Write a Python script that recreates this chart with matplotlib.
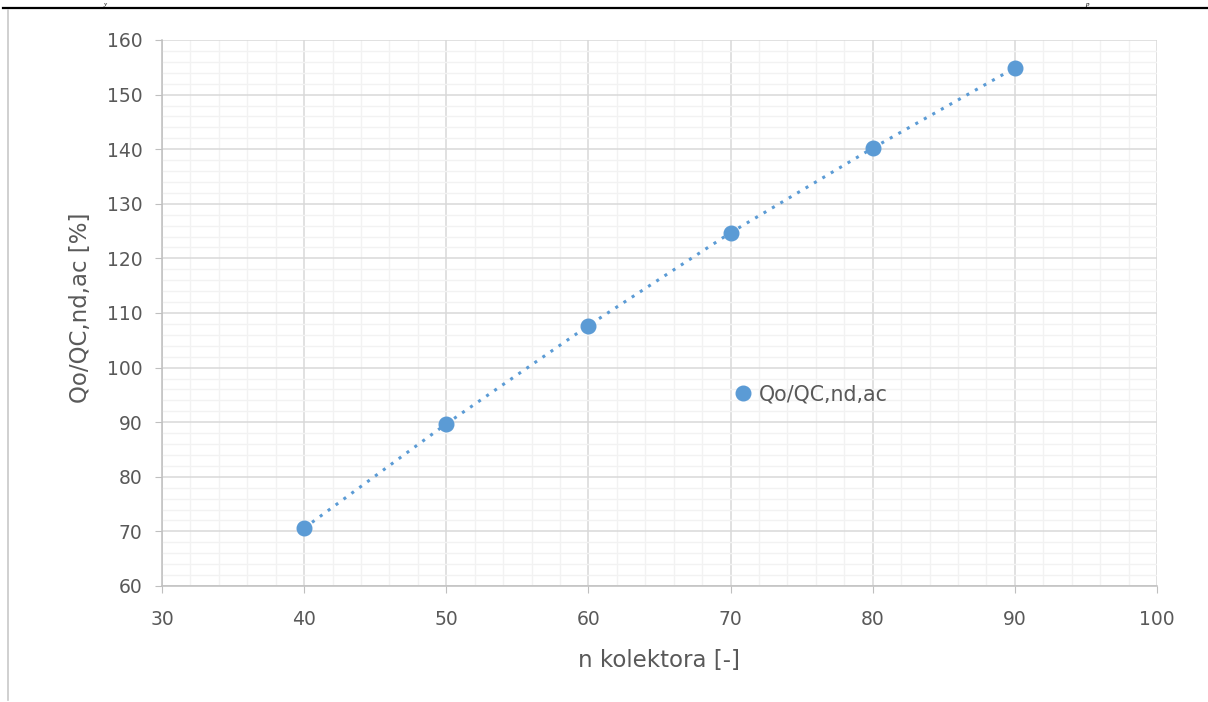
import matplotlib
matplotlib.use("Agg")
import matplotlib.pyplot as plt
from matplotlib.ticker import MultipleLocator
from matplotlib.lines import Line2D

n_kolektora = [40, 50, 60, 70, 80, 90]
qo_qc = [70.6, 89.7, 107.7, 124.7, 140.2, 154.9]
series_label = "Qo/QC,nd,ac"
x_label = "n kolektora [-]"
y_label = "Qo/QC,nd,ac [%]"

plt.rcParams['font.family'] = ['DejaVu Sans']

fig = plt.figure(figsize=(12.08, 7.02), dpi=100)
ax = fig.add_axes([162/1208, 1-586/702, (1157-162)/1208, (586-40)/702])

blue = "#5B9BD5"
ax.plot(n_kolektora, qo_qc, linestyle=(0, (1, 2.2)), color=blue, linewidth=2.2, zorder=3)
ax.plot(n_kolektora, qo_qc, linestyle='none', marker='o', markersize=10.5, color=blue, zorder=4)

ax.set_xlim(30, 100)
ax.set_ylim(60, 160)
ax.xaxis.set_major_locator(MultipleLocator(10))
ax.yaxis.set_major_locator(MultipleLocator(10))
ax.xaxis.set_minor_locator(MultipleLocator(2))
ax.yaxis.set_minor_locator(MultipleLocator(2))
ax.grid(which='major', color='#D9D9D9', linewidth=1.1)
ax.grid(which='minor', color='#F2F2F2', linewidth=1.0)
ax.set_axisbelow(True)
for s in ['top', 'right']:
    ax.spines[s].set_visible(False)
for s in ['left', 'bottom']:
    ax.spines[s].set_color('#BFBFBF')
    ax.spines[s].set_linewidth(1.1)
ax.tick_params(which='major', length=5, color='#BFBFBF', labelsize=13.5, labelcolor='#595959')
ax.tick_params(axis='x', which='major', pad=12)
ax.tick_params(axis='y', which='major', pad=9)
ax.tick_params(which='minor', length=0)
ax.set_xlabel(x_label, fontsize=16.5, color='#595959', va='center')
ax.set_ylabel(y_label, fontsize=16.5, color='#595959', va='center')
ax.xaxis.set_label_coords(0.5, (586-661)/546)
ax.yaxis.set_label_coords((80-162)/995, 0.509)

leg = ax.legend([Line2D([], [], linestyle='none', marker='o', markersize=10.5, color=blue)],
                [series_label], loc='upper left', frameon=False, fontsize=14.8,
                handletextpad=0.25, handlelength=1.0, borderaxespad=0, borderpad=0)
for t in leg.get_texts():
    t.set_color('#595959')
leg.set_bbox_to_anchor((733/1208, 1-384/702), transform=fig.transFigure)

# page decorations
fig.add_artist(Line2D([3/1208, 1], [1-8/702, 1-8/702], color='black', linewidth=1.6, transform=fig.transFigure))
fig.add_artist(Line2D([8/1208, 8/1208], [1-10/702, 1-700/702], color='#C8C8C8', linewidth=1.2, transform=fig.transFigure))
fig.text(104/1208, 1-7/702, "y", fontsize=5, style='italic', family='Liberation Serif', va='bottom')
fig.text(1085/1208, 1-7/702, "p", fontsize=5, style='italic', family='Liberation Serif', va='bottom')

fig.savefig("out.png", dpi=100)
